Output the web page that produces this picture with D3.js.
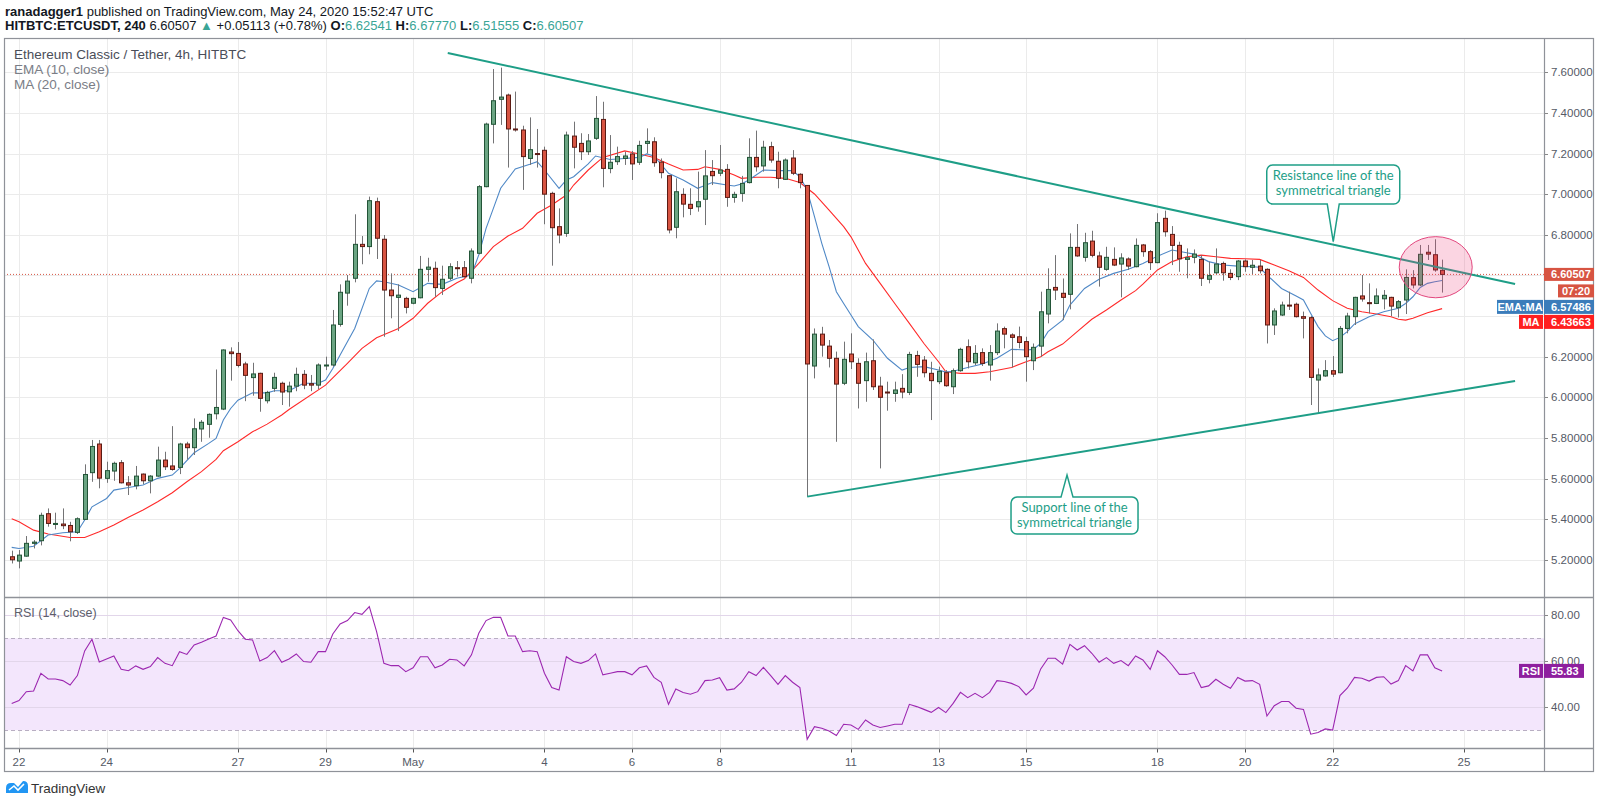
<!DOCTYPE html>
<html>
<head>
<meta charset="utf-8">
<script src="https://cdn.jsdelivr.net/npm/d3@7"></script>
<style>
  html, body { margin: 0; padding: 0; background: #fff; }
  svg { display: block; font-family: "Liberation Sans Narrow", "Liberation Sans", Lato, sans-serif; }
</style>
</head>
<body>
<div id="chart"></div>
<script>
////////////////////////////////////////////////////////////////////
////////////////////////////  Data  ////////////////////////////////

// 4h bars, first bar opens Apr 21 20:00 UTC
const startTime = Date.UTC(2020, 3, 21, 20);
const barMs = 4 * 3600 * 1000;

// [open, high, low, close]
const candles = [
  [5.215,5.245,5.182,5.200],[5.194,5.248,5.158,5.223],[5.218,5.317,5.215,5.281],[5.281,5.297,5.256,5.287],
  [5.294,5.432,5.271,5.419],[5.427,5.453,5.363,5.379],[5.374,5.432,5.350,5.379],[5.376,5.453,5.351,5.368],
  [5.369,5.387,5.291,5.338],[5.335,5.409,5.327,5.402],[5.399,5.670,5.396,5.620],[5.629,5.790,5.584,5.758],
  [5.770,5.790,5.552,5.602],[5.601,5.683,5.579,5.639],[5.637,5.683,5.589,5.675],[5.678,5.691,5.576,5.579],
  [5.579,5.612,5.519,5.568],[5.565,5.662,5.547,5.612],[5.622,5.625,5.573,5.589],[5.589,5.617,5.527,5.612],
  [5.612,5.757,5.609,5.691],[5.691,5.732,5.642,5.658],[5.662,5.858,5.639,5.645],[5.655,5.776,5.622,5.770],
  [5.770,5.781,5.694,5.752],[5.752,5.896,5.716,5.845],[5.844,5.888,5.781,5.877],[5.867,5.921,5.801,5.916],
  [5.919,6.137,5.891,5.950],[5.942,6.236,5.937,6.233],[6.223,6.246,6.082,6.215],[6.216,6.272,6.147,6.157],
  [6.164,6.175,5.981,6.108],[6.097,6.170,6.008,6.115],[6.118,6.121,5.929,5.995],[5.983,6.032,5.970,6.024],
  [6.044,6.121,6.027,6.098],[6.069,6.077,5.962,6.026],[6.027,6.077,5.954,6.055],
  [6.055,6.146,6.030,6.113],[6.113,6.134,6.040,6.060],[6.067,6.110,6.030,6.060],[6.060,6.167,6.040,6.159],
  [6.158,6.200,6.134,6.159],[6.159,6.430,6.151,6.356],[6.359,6.556,6.348,6.517],[6.513,6.602,6.451,6.572],
  [6.586,6.901,6.566,6.753],[6.753,6.794,6.655,6.742],[6.742,6.988,6.704,6.968],[6.963,6.983,6.681,6.783],
  [6.778,6.799,6.298,6.528],[6.528,6.610,6.389,6.500],[6.492,6.556,6.326,6.503],[6.487,6.495,6.413,6.443],
  [6.463,6.490,6.458,6.487],[6.490,6.696,6.487,6.630],[6.630,6.687,6.569,6.641],[6.635,6.668,6.495,6.540],
  [6.536,6.648,6.504,6.581],[6.586,6.660,6.577,6.643],[6.638,6.671,6.594,6.635],[6.638,6.671,6.589,6.594],
  [6.586,6.733,6.561,6.720],[6.709,7.045,6.704,7.037],[7.037,7.352,7.034,7.345],[7.344,7.616,7.250,7.460],
  [7.467,7.623,7.341,7.478],[7.488,7.495,7.131,7.321],[7.321,7.505,7.308,7.318],[7.316,7.337,7.021,7.185],
  [7.176,7.378,7.144,7.219],[7.200,7.321,7.131,7.198],[7.216,7.234,6.852,7.000],[7.004,7.012,6.648,6.835],
  [6.840,6.930,6.758,6.799],[6.807,7.308,6.790,7.291],
  [7.286,7.357,7.127,7.231],[7.250,7.300,7.168,7.209],[7.209,7.296,7.193,7.262],[7.275,7.483,7.267,7.373],
  [7.368,7.455,7.034,7.127],[7.126,7.291,7.103,7.157],[7.160,7.234,7.144,7.185],[7.176,7.209,7.144,7.188],
  [7.198,7.213,7.070,7.149],[7.157,7.263,7.144,7.240],[7.250,7.324,7.200,7.260],[7.258,7.280,7.135,7.155],
  [7.158,7.176,7.078,7.106],[7.091,7.094,6.807,6.824],[6.837,7.078,6.783,7.012],[6.999,7.029,6.886,6.951],
  [6.950,7.029,6.897,6.930],[6.938,7.111,6.914,6.963],[6.975,7.217,6.848,7.090],[7.112,7.168,7.045,7.091],
  [7.103,7.242,7.089,7.119],[7.122,7.148,6.938,6.984],[6.984,7.012,6.958,6.999],[7.004,7.090,6.963,7.053],
  [7.057,7.275,7.053,7.181],[7.181,7.313,7.111,7.135],[7.139,7.263,7.111,7.231],[7.234,7.258,7.155,7.168],
  [7.162,7.209,7.029,7.078],[7.073,7.176,7.070,7.168],[7.178,7.217,7.094,7.103],[7.098,7.103,7.029,7.057],
  [7.043,7.045,5.511,6.164],[6.154,6.339,6.093,6.311],[6.311,6.347,6.200,6.257],[6.252,6.282,6.147,6.192],
  [6.192,6.225,5.781,6.065],[6.069,6.274,6.060,6.187],[6.213,6.315,6.139,6.175],
  [6.167,6.192,5.945,6.069],[6.082,6.220,5.978,6.175],[6.180,6.285,6.036,6.052],[6.055,6.101,5.650,6.000],
  [6.026,6.077,5.934,6.023],[6.019,6.077,5.978,6.036],[6.044,6.114,5.995,6.026],[6.024,6.224,6.011,6.211],
  [6.206,6.229,6.101,6.162],[6.183,6.203,6.098,6.121],[6.118,6.175,5.888,6.082],[6.077,6.151,6.065,6.128],
  [6.121,6.134,6.052,6.057],[6.052,6.142,6.016,6.131],[6.131,6.244,6.126,6.236],[6.249,6.285,6.142,6.175],
  [6.170,6.257,6.159,6.216],[6.220,6.241,6.154,6.167],[6.159,6.257,6.082,6.220],[6.220,6.364,6.208,6.326],
  [6.338,6.348,6.241,6.311],[6.307,6.315,6.147,6.295],[6.298,6.348,6.241,6.270],[6.274,6.298,6.077,6.200],
  [6.180,6.265,6.134,6.246],[6.252,6.520,6.200,6.421],[6.410,6.635,6.364,6.531],[6.541,6.700,6.479,6.528],
  [6.512,6.585,6.380,6.492],[6.507,6.807,6.433,6.738],[6.738,6.853,6.692,6.696],[6.689,6.810,6.668,6.761],
  [6.769,6.820,6.689,6.699],[6.696,6.717,6.545,6.640],[6.630,6.741,6.623,6.689],[6.679,6.738,6.646,6.651],
  [6.656,6.709,6.492,6.686],[6.681,6.689,6.627,6.646],[6.643,6.782,6.640,6.748],[6.750,6.755,6.692,6.717],
  [6.717,6.725,6.627,6.663],[6.663,6.906,6.660,6.860],[6.881,6.919,6.791,6.815],[6.802,6.843,6.651,6.748],
  [6.748,6.766,6.618,6.682],[6.679,6.733,6.586,6.687],[6.689,6.728,6.660,6.705],[6.679,6.700,6.548,6.586],
  [6.581,6.668,6.561,6.599],[6.613,6.733,6.607,6.656],[6.659,6.668,6.574,6.613],[6.610,6.630,6.577,6.590],
  [6.594,6.676,6.577,6.671],[6.671,6.679,6.618,6.643],[6.640,6.676,6.607,6.650],[6.646,6.676,6.610,6.623],
  [6.630,6.635,6.265,6.356],[6.356,6.438,6.307,6.425],[6.405,6.471,6.400,6.454],[6.454,6.520,6.430,6.449],
  [6.458,6.466,6.393,6.397],[6.397,6.422,6.290,6.389],[6.392,6.400,5.962,6.098],[6.085,6.142,5.924,6.110],
  [6.105,6.183,6.101,6.131],[6.131,6.203,6.100,6.114],[6.121,6.351,6.118,6.339],[6.339,6.416,6.315,6.400],
  [6.397,6.495,6.356,6.492],[6.499,6.602,6.471,6.484],[6.466,6.561,6.413,6.461],[6.462,6.536,6.459,6.499],
  [6.485,6.528,6.433,6.502],[6.492,6.495,6.400,6.449],[6.441,6.479,6.393,6.471],[6.479,6.630,6.410,6.590],
  [6.589,6.626,6.536,6.553],[6.553,6.750,6.548,6.704],[6.714,6.750,6.676,6.705],[6.702,6.778,6.618,6.627],
  [6.62541,6.67770,6.51555,6.60507]
];

// EMA (10): [bar index, value]
const emaPts = [
  [0,5.261],[1,5.256],[3,5.267],[5,5.322],[7,5.333],[9,5.338],[10,5.396],[11,5.461],[13,5.502],[14,5.543],
  [16,5.556],[18,5.568],[20,5.601],[22,5.617],[23,5.65],[25,5.727],[27,5.773],[28,5.798],[29,5.888],[30,5.945],
  [31,5.986],[33,6.022],[35,6.022],[36,6.032],[38,6.032],[40,6.069],[42,6.069],[43,6.085],[44,6.142],[45,6.208],
  [47,6.339],[49,6.536],[50,6.573],[51,6.569],[53,6.553],[55,6.52],[57,6.561],[59,6.556],[61,6.586],[63,6.602],
  [64,6.701],[65,6.832],[66,6.93],[67,7.029],[69,7.124],[71,7.147],[72,7.16],[73,7.119],[75,7.029],[76,7.07],
  [77,7.086],[79,7.149],[80,7.188],[82,7.171],[84,7.176],[86,7.181],[87,7.198],[88,7.188],[90,7.103],[92,7.07],
  [94,7.029],[96,7.057],[98,7.045],[99,7.04],[100,7.05],[101,7.07],[103,7.119],[105,7.116],[107,7.116],[108,7.086],
  [109,7.02],[110,6.889],[111,6.758],[112,6.643],[113,6.52],[114,6.462],[115,6.405],[116,6.348],[118,6.282],[120,6.192],
  [122,6.134],[123,6.147],[125,6.151],[127,6.134],[128,6.124],[129,6.128],[131,6.147],[133,6.164],[135,6.192],[137,6.236],
  [139,6.233],[140,6.236],[141,6.265],[142,6.323],[144,6.38],[145,6.454],[147,6.536],[149,6.581],[151,6.61],[153,6.63],
  [155,6.659],[157,6.695],[159,6.725],[161,6.712],[162,6.705],[164,6.668],[166,6.651],[168,6.646],[170,6.643],[171,6.64],
  [172,6.602],[174,6.536],[176,6.499],[177,6.479],[178,6.413],[179,6.348],[180,6.302],[181,6.279],[182,6.295],[183,6.323],
  [184,6.361],[186,6.397],[188,6.421],[190,6.438],[191,6.462],[192,6.495],[193,6.541],[194,6.561],[195,6.569],[196,6.57486]
];

// MA (20): [bar index, value]
const maPts = [
  [0,5.402],[1,5.387],[3,5.346],[5,5.327],[8,5.31],[10,5.31],[12,5.338],[14,5.371],[16,5.409],[18,5.445],
  [20,5.486],[22,5.53],[24,5.584],[26,5.634],[28,5.694],[29,5.737],[31,5.781],[33,5.83],[35,5.868],[37,5.913],
  [38,5.94],[43,6.06],[46,6.167],[48,6.241],[50,6.293],[53,6.339],[55,6.389],[57,6.463],[59,6.52],[61,6.564],
  [62,6.582],[64,6.659],[66,6.742],[68,6.794],[70,6.832],[72,6.906],[74,6.947],[76,6.996],[77,7.045],[79,7.119],
  [81,7.181],[84,7.213],[86,7.198],[88,7.181],[90,7.149],[92,7.119],[94,7.122],[95,7.135],[97,7.122],[99,7.094],
  [100,7.078],[102,7.083],[104,7.083],[106,7.078],[108,7.057],[109,7.029],[110,7.001],[112,6.922],[114,6.84],[115,6.79],
  [117,6.659],[119,6.561],[121,6.462],[123,6.364],[125,6.265],[127,6.175],[128,6.126],[130,6.118],[132,6.118],[134,6.126],
  [137,6.147],[139,6.175],[141,6.2],[142,6.224],[144,6.262],[146,6.323],[148,6.384],[150,6.43],[152,6.479],[154,6.525],
  [155,6.557],[157,6.627],[159,6.668],[161,6.692],[163,6.7],[165,6.692],[167,6.684],[169,6.682],[171,6.679],[173,6.651],
  [175,6.623],[177,6.59],[179,6.528],[181,6.476],[183,6.438],[185,6.421],[187,6.41],[189,6.397],[190,6.384],[191,6.38],
  [192,6.389],[194,6.416],[196,6.43663]
];

// RSI (14), one value per bar
const rsiVals = [
  41.7,42.9,46.8,47.1,54.8,52.3,52.3,51.6,49.7,53.8,
  64.5,69.6,59.7,61.0,62.3,56.5,55.9,58.0,56.5,57.7,
  61.6,59.1,58.1,64.2,63.0,67.1,68.3,69.7,71.0,79.1,
  78.0,73.3,69.6,69.3,60.1,61.6,64.6,59.6,61.0,63.2,
  59.9,59.6,64.2,64.2,71.9,76.2,77.7,81.2,80.4,83.8,
  72.9,59.1,58.1,58.1,55.5,57.2,62.0,62.0,57.2,58.4,
  60.9,60.6,58.0,62.8,72.2,77.7,79.1,79.1,71.0,71.0,
  64.2,64.6,64.2,54.8,48.6,47.5,62.0,59.9,59.1,60.3,
  63.2,54.1,54.8,55.5,55.5,54.1,57.2,58.0,53.0,50.9,
  41.3,48.0,46.4,45.7,46.8,51.6,51.9,52.9,47.5,48.0,
  50.9,55.5,53.8,57.4,53.8,50.0,53.8,50.9,48.6,26.1,
  31.6,30.9,29.7,27.7,32.6,32.3,30.4,34.5,32.3,31.2,
  31.9,32.6,32.6,41.3,40.3,39.1,37.8,39.9,37.7,41.7,
  46.5,44.2,46.1,44.2,46.5,51.6,51.2,50.4,49.0,45.4,
  48.3,56.7,61.3,61.3,58.8,67.4,64.9,66.8,63.5,59.6,
  61.6,59.1,60.3,58.1,62.3,60.6,56.5,64.6,62.0,58.4,
  54.3,54.3,55.1,48.6,49.3,52.2,50.0,48.3,53.0,51.4,
  51.6,50.0,36.2,40.7,42.5,42.5,39.6,39.1,28.3,29.0,
  30.6,30.1,45.1,48.3,53.0,52.6,51.4,53.0,53.3,50.1,
  51.6,58.1,55.8,62.8,62.8,57.2,55.83
];

const priceTicks = [5.2, 5.4, 5.6, 5.8, 6.0, 6.2, 6.4, 6.6, 6.8, 7.0, 7.2, 7.4, 7.6];
const rsiTicks = [40, 60, 80];
const rsiBand = [30, 70];
const dateTicks = ["2020-04-22", "2020-04-24", "2020-04-27", "2020-04-29", "2020-05-01", "2020-05-04",
  "2020-05-06", "2020-05-08", "2020-05-11", "2020-05-13", "2020-05-15", "2020-05-18", "2020-05-20",
  "2020-05-22", "2020-05-25"];

// drawings
const resistanceLine = [["2020-05-01T19:00Z", 7.695], ["2020-05-26T04:00Z", 6.558]];
const supportLine = [["2020-05-10T00:00Z", 5.511], ["2020-05-26T04:00Z", 6.080]];
const circleZone = { t0: "2020-05-23T12:30Z", t1: "2020-05-25T04:30Z", top: 6.791, bottom: 6.49 };
const notes = [
  { lines: ["Resistance line of the", "symmetrical triangle"], tip: ["2020-05-22T00:20Z", 6.766], up: false },
  { lines: ["Support line of the", "symmetrical triangle"], tip: ["2020-05-15T22:25Z", 5.617], up: true }
];

const lastPrice = 6.60507, lastEma = 6.57486, lastMa = 6.43663, lastRsi = 55.83;
const countdown = "07:20";

////////////////////////////////////////////////////////////////////
////////////////////////////  Layout  //////////////////////////////

const W = 1600, H = 805;
const frame = { left: 4, top: 38, right: 1594, bottom: 772 };
const plotRight = 1544;
const priceBottom = 597.5;
const rsiBottom = 748.5;

const upFill = "#6ba583", upLine = "#225437";
const downFill = "#d75442", downLine = "#5b1a13";
const wickColor = "#737375";
const teal = "#1e9e87";
const axisText = "#555a66";
const gridColor = "#ebebeb";

const svg = d3.select("#chart").append("svg").attr("width", W).attr("height", H);

// scales
const x = d3.scaleUtc()
  .domain([new Date("2020-04-22T00:00Z"), new Date("2020-05-25T00:00Z")])
  .range([19, 1464]);
const y = d3.scaleLinear().domain([5.2, 7.6]).range([559.8, 72.3]);
const yRsi = d3.scaleLinear().domain([40, 80]).range([707.3, 615.3]);

const barTime = (i) => new Date(startTime + i * barMs);
const bars = candles.map((d, i) => ({ t: barTime(i), o: d[0], h: d[1], l: d[2], c: d[3] }));

// where the price tags sit on the right axis (stacked below the last price)
const tagLast = y(lastPrice);
const tagCount = tagLast + 16.5;
const tagEma = tagCount + 16;
const tagMa = tagEma + 15;
const tagYs = [tagLast, tagCount, tagEma, tagMa];

// clips
const defs = svg.append("defs");
defs.append("clipPath").attr("id", "clip-price").append("rect")
  .attr("x", frame.left).attr("y", frame.top).attr("width", plotRight - frame.left).attr("height", priceBottom - frame.top);
defs.append("clipPath").attr("id", "clip-rsi").append("rect")
  .attr("x", frame.left).attr("y", priceBottom).attr("width", plotRight - frame.left).attr("height", rsiBottom - priceBottom);

////////////////////////////////////////////////////////////////////
////////////////////////////  Header  //////////////////////////////

const head1 = svg.append("text").attr("x", 5).attr("y", 16).attr("font-size", 13).attr("fill", "#131722");
head1.append("tspan").attr("font-weight", "bold").text("ranadagger1");
head1.append("tspan").text(" published on TradingView.com, May 24, 2020 15:52:47 UTC");

const head2 = svg.append("text").attr("x", 5).attr("y", 30).attr("font-size", 13).attr("fill", "#131722");
head2.append("tspan").attr("font-weight", "bold").text("HITBTC:ETCUSDT, 240");
head2.append("tspan").text(" 6.60507 ");
head2.append("tspan").attr("fill", "#3aa596").text("▲");
head2.append("tspan").text(" +0.05113 (+0.78%) ");
[["O:", "6.62541"], [" H:", "6.67770"], [" L:", "6.51555"], [" C:", "6.60507"]].forEach(([k, v]) => {
  head2.append("tspan").attr("font-weight", "bold").text(k);
  head2.append("tspan").attr("fill", "#3aa596").text(v);
});

////////////////////////////////////////////////////////////////////
////////////////////////////  Grid  ////////////////////////////////

const grid = svg.append("g");
grid.selectAll(".hg").data(priceTicks).enter().append("line")
  .attr("x1", frame.left).attr("x2", plotRight)
  .attr("y1", (d) => Math.round(y(d)) + 0.5).attr("y2", (d) => Math.round(y(d)) + 0.5)
  .attr("stroke", gridColor);
grid.selectAll(".vg").data(dateTicks).enter().append("line")
  .attr("x1", (d) => Math.round(x(new Date(d + "T00:00Z"))) + 0.5)
  .attr("x2", (d) => Math.round(x(new Date(d + "T00:00Z"))) + 0.5)
  .attr("y1", frame.top).attr("y2", rsiBottom)
  .attr("stroke", gridColor);

////////////////////////////////////////////////////////////////////
////////////////////////////  RSI panel  ///////////////////////////

const rsiG = svg.append("g").attr("clip-path", "url(#clip-rsi)");
rsiG.append("rect")
  .attr("x", frame.left).attr("width", plotRight - frame.left)
  .attr("y", yRsi(rsiBand[1])).attr("height", yRsi(rsiBand[0]) - yRsi(rsiBand[1]))
  .attr("fill", "#f3e6fc");
rsiG.selectAll(".rg").data(rsiTicks).enter().append("line")
  .attr("x1", frame.left).attr("x2", plotRight)
  .attr("y1", (d) => Math.round(yRsi(d)) + 0.5).attr("y2", (d) => Math.round(yRsi(d)) + 0.5)
  .attr("stroke", "#e2d6ea");
rsiG.selectAll(".band").data(rsiBand).enter().append("line")
  .attr("x1", frame.left).attr("x2", plotRight)
  .attr("y1", (d) => Math.round(yRsi(d)) + 0.5).attr("y2", (d) => Math.round(yRsi(d)) + 0.5)
  .attr("stroke", "#b8aec2").attr("stroke-dasharray", "4,3");
rsiG.append("path")
  .datum(rsiVals)
  .attr("d", d3.line().x((d, i) => x(barTime(i))).y((d) => yRsi(d)))
  .attr("fill", "none").attr("stroke", "#9c27b0").attr("stroke-width", 1.1);

svg.append("text").attr("x", 14).attr("y", 617).attr("font-size", 12.5).attr("fill", "#5d606b")
  .text("RSI (14, close)");

////////////////////////////////////////////////////////////////////
////////////////////////////  Price panel  /////////////////////////

const pg = svg.append("g").attr("clip-path", "url(#clip-price)");

// last price dotted line
pg.append("line")
  .attr("x1", frame.left).attr("x2", plotRight)
  .attr("y1", y(lastPrice)).attr("y2", y(lastPrice))
  .attr("stroke", "#d75442").attr("stroke-width", 1).attr("stroke-dasharray", "1,2");

// moving averages
const ptLine = d3.line().x((d) => x(barTime(d[0]))).y((d) => y(d[1]));
pg.append("path").datum(maPts).attr("d", ptLine)
  .attr("fill", "none").attr("stroke", "#ff2a2a").attr("stroke-width", 1.1);
pg.append("path").datum(emaPts).attr("d", ptLine)
  .attr("fill", "none").attr("stroke", "#4f88c6").attr("stroke-width", 1.1);

// candles
const cg = pg.selectAll(".candle").data(bars).enter().append("g");
cg.append("line")
  .attr("x1", (d) => Math.round(x(d.t)) + 0.5).attr("x2", (d) => Math.round(x(d.t)) + 0.5)
  .attr("y1", (d) => y(d.h)).attr("y2", (d) => y(d.l))
  .attr("stroke", wickColor).attr("stroke-width", 1);
cg.append("rect")
  .attr("x", (d) => Math.round(x(d.t)) - 1.5)
  .attr("width", 4)
  .attr("y", (d) => y(Math.max(d.o, d.c)))
  .attr("height", (d) => Math.max(1, Math.abs(y(d.o) - y(d.c))))
  .attr("fill", (d) => (d.c >= d.o ? upFill : downFill))
  .attr("stroke", (d) => (d.c >= d.o ? upLine : downLine))
  .attr("stroke-width", 1);

// trend lines
const tl = (pts) => pts.map((p) => [x(new Date(p[0])), y(p[1])]);
[resistanceLine, supportLine].forEach((ln) => {
  pg.append("path").attr("d", d3.line()(tl(ln)))
    .attr("fill", "none").attr("stroke", teal).attr("stroke-width", 2);
});

// highlight ellipse
const ex0 = x(new Date(circleZone.t0)), ex1 = x(new Date(circleZone.t1));
const ey0 = y(circleZone.top), ey1 = y(circleZone.bottom);
pg.append("ellipse")
  .attr("cx", (ex0 + ex1) / 2).attr("cy", (ey0 + ey1) / 2)
  .attr("rx", (ex1 - ex0) / 2).attr("ry", (ey1 - ey0) / 2)
  .attr("fill", "rgba(236, 64, 122, 0.22)").attr("stroke", "#e2477e").attr("stroke-width", 1);

// callouts
notes.forEach((n) => {
  const tx = x(new Date(n.tip[0])), ty = y(n.tip[1]);
  const bw = n.up ? 127 : 133, bh = n.up ? 37 : 39;
  const bx = n.up ? tx - 56 : tx - 66.5;
  const by = n.up ? ty + 22 : ty - 37.7 - bh;
  const r = 6, hw = 6;
  const edgeY = n.up ? by : by + bh;
  const p = d3.path();
  if (n.up) {
    p.moveTo(bx + r, by);
    p.lineTo(tx - hw, by); p.lineTo(tx, ty); p.lineTo(tx + hw, by);
    p.lineTo(bx + bw - r, by); p.arcTo(bx + bw, by, bx + bw, by + r, r);
    p.lineTo(bx + bw, by + bh - r); p.arcTo(bx + bw, by + bh, bx + bw - r, by + bh, r);
    p.lineTo(bx + r, by + bh); p.arcTo(bx, by + bh, bx, by + bh - r, r);
    p.lineTo(bx, by + r); p.arcTo(bx, by, bx + r, by, r);
  } else {
    p.moveTo(bx + r, by);
    p.lineTo(bx + bw - r, by); p.arcTo(bx + bw, by, bx + bw, by + r, r);
    p.lineTo(bx + bw, edgeY - r); p.arcTo(bx + bw, edgeY, bx + bw - r, edgeY, r);
    p.lineTo(tx + hw, edgeY); p.lineTo(tx, ty); p.lineTo(tx - hw, edgeY);
    p.lineTo(bx + r, edgeY); p.arcTo(bx, edgeY, bx, edgeY - r, r);
    p.lineTo(bx, by + r); p.arcTo(bx, by, bx + r, by, r);
  }
  p.closePath();
  pg.append("path").attr("d", p.toString())
    .attr("fill", "#fff").attr("stroke", teal).attr("stroke-width", 1.5);
  pg.append("text")
    .attr("x", bx + bw / 2).attr("text-anchor", "middle")
    .attr("font-family", "Lato, 'Open Sans', sans-serif").attr("font-size", 13).attr("fill", teal)
    .selectAll("tspan").data(n.lines).enter().append("tspan")
    .attr("x", bx + bw / 2).attr("y", (d, i) => by + 15 + i * 14.5)
    .text((d) => d);
});

// legend
svg.append("text").attr("x", 14).attr("y", 58.5).attr("font-size", 13.5).attr("fill", "#4a4e59")
  .text("Ethereum Classic / Tether, 4h, HITBTC");
svg.append("text").attr("x", 14).attr("y", 74).attr("font-size", 13.5).attr("fill", "#7a7d86")
  .text("EMA (10, close)");
svg.append("text").attr("x", 14).attr("y", 88.5).attr("font-size", 13.5).attr("fill", "#7a7d86")
  .text("MA (20, close)");

////////////////////////////////////////////////////////////////////
////////////////////////////  Axes  ////////////////////////////////

// price axis (labels hidden where a price tag covers them)
const freeTicks = priceTicks.filter((d) => tagYs.every((t) => Math.abs(y(d) - t) > 9));
const pa = svg.append("g");
pa.selectAll(".pt").data(priceTicks).enter().append("line")
  .attr("x1", plotRight).attr("x2", plotRight + 4)
  .attr("y1", (d) => Math.round(y(d)) + 0.5).attr("y2", (d) => Math.round(y(d)) + 0.5)
  .attr("stroke", "#888");
pa.selectAll(".pl").data(freeTicks).enter().append("text")
  .attr("x", plotRight + 7).attr("y", (d) => y(d)).attr("dy", "0.35em")
  .attr("font-size", 11.5).attr("fill", axisText)
  .text((d) => d3.format(".5f")(d));

// rsi axis
pa.selectAll(".rt").data(rsiTicks).enter().append("line")
  .attr("x1", plotRight).attr("x2", plotRight + 4)
  .attr("y1", (d) => Math.round(yRsi(d)) + 0.5).attr("y2", (d) => Math.round(yRsi(d)) + 0.5)
  .attr("stroke", "#888");
pa.selectAll(".rl").data(rsiTicks).enter().append("text")
  .attr("x", plotRight + 7).attr("y", (d) => yRsi(d)).attr("dy", "0.35em")
  .attr("font-size", 11.5).attr("fill", axisText)
  .text((d) => d3.format(".2f")(d));

// time axis
const ta = svg.append("g");
ta.selectAll(".tt").data(dateTicks).enter().append("line")
  .attr("x1", (d) => Math.round(x(new Date(d + "T00:00Z"))) + 0.5)
  .attr("x2", (d) => Math.round(x(new Date(d + "T00:00Z"))) + 0.5)
  .attr("y1", rsiBottom).attr("y2", rsiBottom + 4)
  .attr("stroke", "#555");
ta.selectAll(".tl").data(dateTicks).enter().append("text")
  .attr("x", (d) => x(new Date(d + "T00:00Z"))).attr("y", 762).attr("dy", "0.35em")
  .attr("text-anchor", "middle").attr("font-size", 11.5).attr("fill", axisText)
  .text((d) => {
    const dt = new Date(d + "T00:00Z");
    return dt.getUTCDate() === 1 ? d3.utcFormat("%b")(dt) : dt.getUTCDate();
  });

// frame and separators
const fr = svg.append("g").attr("stroke", "#8f9299").attr("fill", "none");
fr.append("rect").attr("x", frame.left + 0.5).attr("y", frame.top + 0.5)
  .attr("width", frame.right - frame.left - 1).attr("height", frame.bottom - frame.top - 1)
  .attr("stroke-width", 1.2);
fr.append("line").attr("x1", frame.left).attr("x2", frame.right).attr("y1", priceBottom).attr("y2", priceBottom).attr("stroke-width", 1.3);
fr.append("line").attr("x1", frame.left).attr("x2", frame.right).attr("y1", rsiBottom).attr("y2", rsiBottom).attr("stroke-width", 1.3);
fr.append("line").attr("x1", plotRight + 0.5).attr("x2", plotRight + 0.5).attr("y1", frame.top).attr("y2", frame.bottom).attr("stroke-width", 1.2);

////////////////////////////////////////////////////////////////////
////////////////////////////  Price labels  ////////////////////////

// value tag right of the axis: text left aligned
const valueTag = (yc, w, h, fill, label) => {
  svg.append("rect").attr("x", plotRight).attr("y", yc - h / 2).attr("width", w).attr("height", h).attr("fill", fill);
  svg.append("text").attr("x", plotRight + 7).attr("y", yc).attr("dy", "0.35em")
    .attr("font-size", 11).attr("font-weight", "bold").attr("fill", "#fff").text(label);
};
// name tag left of the axis: text centred
const nameTag = (x0, yc, w, h, fill, label) => {
  svg.append("rect").attr("x", x0).attr("y", yc - h / 2).attr("width", w).attr("height", h).attr("fill", fill);
  svg.append("text").attr("x", x0 + w / 2).attr("y", yc).attr("dy", "0.35em").attr("text-anchor", "middle")
    .attr("font-size", 11).attr("font-weight", "bold").attr("fill", "#fff").text(label);
};

valueTag(tagLast, 50, 13, "#d75442", d3.format(".5f")(lastPrice));
svg.append("rect").attr("x", 1558).attr("y", tagCount - 6.5).attr("width", 36).attr("height", 13).attr("fill", "#d75442");
svg.append("text").attr("x", 1576).attr("y", tagCount).attr("dy", "0.35em").attr("text-anchor", "middle")
  .attr("font-size", 11).attr("font-weight", "bold").attr("fill", "#fff").text(countdown);
nameTag(1497, tagEma, 46, 14, "#3b7cba", "EMA:MA");
valueTag(tagEma, 50, 14, "#3b7cba", d3.format(".5f")(lastEma));
nameTag(1519, tagMa, 24, 14, "#ff1f1f", "MA");
valueTag(tagMa, 50, 14, "#ff1f1f", d3.format(".5f")(lastMa));

const yr = yRsi(lastRsi);
nameTag(1519, yr, 24, 14, "#8e1f9e", "RSI");
valueTag(yr, 40, 14, "#8e1f9e", d3.format(".2f")(lastRsi));

////////////////////////////////////////////////////////////////////
////////////////////////////  Footer logo  /////////////////////////

const logo = svg.append("g");
logo.append("path")
  .attr("d", "M6,793 L6,788 Q6,783 11,783 L14,783 L18,787 L23,781 Q28,781 28,786 L28,793 Z")
  .attr("fill", "#2196f3");
logo.append("path").attr("d", "M9,790 L14,786 L18,790 L24,784")
  .attr("fill", "none").attr("stroke", "#fff").attr("stroke-width", 1.6);
logo.append("text").attr("x", 31).attr("y", 792.5).attr("font-size", 13.5).attr("fill", "#333")
  .text("TradingView");
</script>
</body>
</html>
